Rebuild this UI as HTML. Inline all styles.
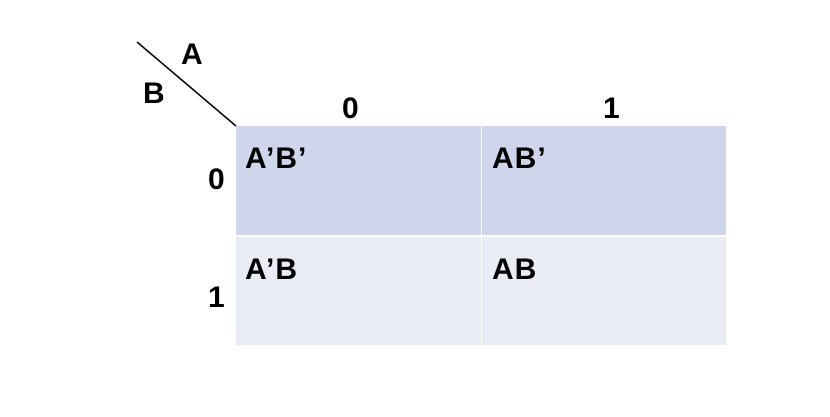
<!DOCTYPE html>
<html><head><meta charset="utf-8"><style>
body{margin:0;width:830px;height:417px;background:#fff;position:relative;overflow:hidden;font-family:"Liberation Sans",sans-serif;font-weight:bold;}
.t{position:absolute;font-size:30px;line-height:1;color:#000;}
.c{position:absolute;}
</style></head><body>
<svg style="position:absolute;left:0;top:0" width="830" height="417"><line x1="137" y1="42" x2="236" y2="126" stroke="#000" stroke-width="1.5"/></svg>
<div class="t" style="left:181px;top:40px">A</div>
<div class="t" style="left:143px;top:79px">B</div>
<div class="t" style="left:342px;top:94px">0</div>
<div class="t" style="left:603px;top:94px">1</div>
<div class="t" style="left:208px;top:165px">0</div>
<div class="t" style="left:208px;top:283px">1</div>
<div class="c" style="left:236px;top:126px;width:245px;height:109px;background:#CFD5EA"></div>
<div class="c" style="left:482px;top:126px;width:244px;height:109px;background:#CFD5EA"></div>
<div class="c" style="left:236px;top:237px;width:245px;height:108px;background:#E9EBF5"></div>
<div class="c" style="left:482px;top:237px;width:244px;height:108px;background:#E9EBF5"></div>
<div class="t" style="left:245px;top:144px;letter-spacing:1px">A’B’</div>
<div class="t" style="left:492px;top:144px;letter-spacing:1px">AB’</div>
<div class="t" style="left:245px;top:255px;letter-spacing:1px">A’B</div>
<div class="t" style="left:492px;top:255px;letter-spacing:1px">AB</div>
</body></html>
